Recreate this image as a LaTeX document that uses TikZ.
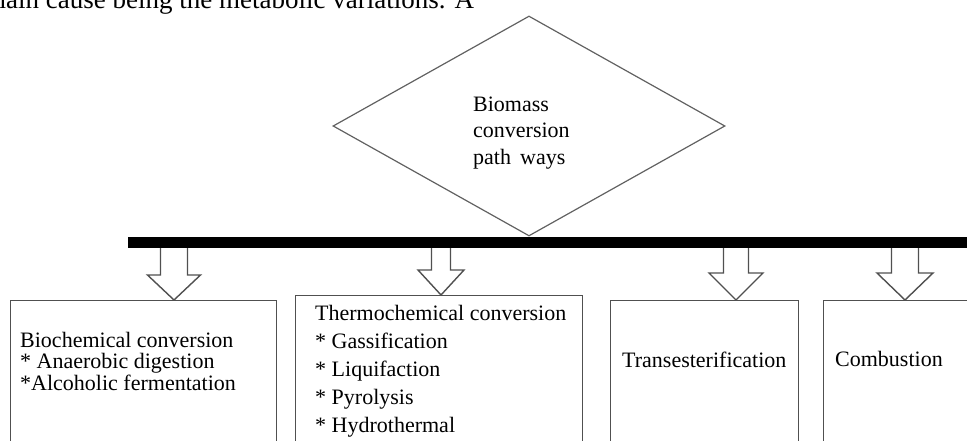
\documentclass[tikz,border=0pt]{standalone}
\usepackage{fontspec}
\setmainfont{Liberation Serif}
\usetikzlibrary{shapes.geometric,calc}
\definecolor{edge}{HTML}{505050}
\tikzset{
  boxnode/.style={draw=edge, line width=1.3pt, fill=none, inner sep=0pt, anchor=north west},
  txt/.style={inner sep=0pt, anchor=base west, align=left, font=\fontsize{22}{22}\selectfont},
  blockarr/.style={draw=edge, line width=1.4pt, fill=white, line join=miter},
}
\newcommand\blockarrow[4]{%
  \draw[blockarr] ($(bar.south -| #1)+(-#2,0)$) -- ($(#1)+(-#2,#4)$) -- ($(#1)+(-#3,#4)$) -- (#1)
    -- ($(#1)+(#3,#4)$) -- ($(#1)+(#2,#4)$) -- ($(bar.south -| #1)+(#2,0)$);}
\begin{document}
\begin{tikzpicture}[x=1pt,y=1pt]
\useasboundingbox (0,0) rectangle (967,440);
\begin{scope}
\clip (0,0) rectangle (967,440);
% cropped running text at the top
\node[inner sep=0pt, anchor=base west, font=\fontsize{27}{30}\selectfont] (toptext) at (-15,431) {main cause being the metabolic variations. A};

% diamond
\node[diamond, draw=edge!90, line width=1.2pt, minimum width=392, minimum height=220, shape aspect=1.78, inner sep=0pt] (dia) at (529,314) {};
\node[txt] (dl1) at (473,328) {Biomass};
\node[txt] (dl2) at (473,302) {conversion};
\node[txt] (dl3) at (473,275.5) {path\, ways};

% bar
\node[fill=black, draw=none, minimum width=860, minimum height=11, inner sep=0pt, anchor=west] (bar) at (128,197.5) {};

% boxes
\node[boxnode, minimum width=266, minimum height=180] (b1) at (10,140) {};
\node[boxnode, minimum width=287, minimum height=185] (b2) at (295,145) {};
\node[boxnode, minimum width=188, minimum height=180] (b3) at (610,140) {};
\node[boxnode, minimum width=200, minimum height=180] (b4) at (823,140) {};

% arrow tips
\coordinate (t1) at (174,140);
\coordinate (t2) at (441,145);
\coordinate (t3) at (736,140);
\coordinate (t4) at (905,140);
\blockarrow{t1}{13.5}{26.5}{25}
\blockarrow{t2}{9.5}{23}{25}
\blockarrow{t3}{12.5}{27}{27}
\blockarrow{t4}{13.5}{28}{27}

% box texts
\node[txt] (b1a) at (20,93) {Biochemical conversion};
\node[txt] (b1b) at (20,71.5) {* Anaerobic digestion};
\node[txt] (b1c) at (20,50) {*Alcoholic fermentation};

\node[txt] (b2a) at (315,120) {Thermochemical conversion};
\node[txt] (b2b) at (315,92) {* Gassification};
\node[txt] (b2c) at (315,64) {* Liquifaction};
\node[txt] (b2d) at (315,36) {* Pyrolysis};
\node[txt] (b2e) at (315,8) {* Hydrothermal};

\node[txt] (b3a) at (622,73) {Transesterification};
\node[txt] (b4a) at (835,74) {Combustion};
\end{scope}
\end{tikzpicture}
\end{document}
